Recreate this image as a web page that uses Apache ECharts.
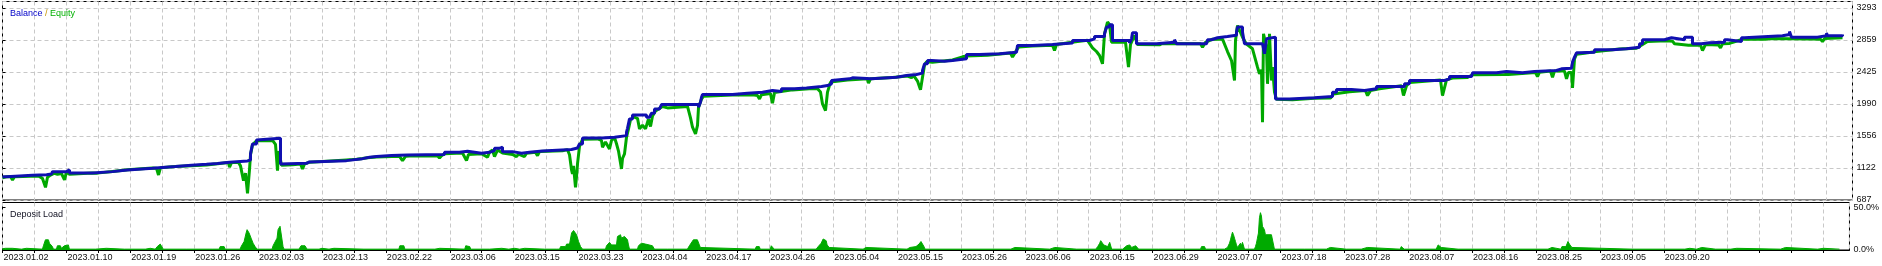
<!DOCTYPE html>
<html>
<head>
<meta charset="utf-8">
<script src="https://cdn.jsdelivr.net/npm/echarts@6/dist/echarts.min.js"></script>
<style>
html,body{margin:0;padding:0;background:#fff;}
#c{width:1882px;height:266px;}
</style>
</head>
<body>
<div id="c"></div>
<script>
// x = bar/time index (0..1850), labels every 64 bars
const dateLabels = ['2023.01.02','2023.01.10','2023.01.19','2023.01.26','2023.02.03','2023.02.13','2023.02.22','2023.03.06','2023.03.15','2023.03.23','2023.04.04','2023.04.17','2023.04.26','2023.05.04','2023.05.15','2023.05.26','2023.06.06','2023.06.15','2023.06.29','2023.07.07','2023.07.18','2023.07.28','2023.08.07','2023.08.16','2023.08.25','2023.09.05','2023.09.20'];

const balance = [
[0,1004],[4,1022],[30,1031],[44,1040],[49,1054],[50,1072],[64,1095],[67,1054],[90,1072],[110,1095],[125,1117],[150,1140],[173,1158],[189,1171],[204,1181],[215,1199],[227,1217],[245,1230],[248,1312],[250,1447],[254,1502],[255,1524],[278,1176],[280,1185],[304,1203],[307,1221],[344,1248],[360,1266],
[367,1276],[374,1289],[389,1298],[405,1325],[407,1303],[442,1334],[457,1348],[465,1321],[479,1334],[487,1357],[492,1388],[497,1402],[500,1343],[510,1321],[519,1334],[527,1352],[540,1371],[569,1393],[575,1402],[577,1447],[580,1529],[599,1538],[612,1560],[624,1606],[625,1660],[627,1787],[630,1841],[644,1809],[647,1832],[649,1864],[652,1922],[657,1945],[659,1981],[696,1945],[698,2013],[699,2081],[700,2117],[730,2135],
[745,2149],[760,2171],[770,2158],[779,2194],[792,2207],[804,2226],[819,2239],[825,2262],[829,2307],[830,2330],[847,2343],[850,2330],[869,2352],[894,2375],[904,2388],[914,2407],[920,2443],[922,2533],[925,2578],[929,2569],[942,2578],[950,2601],[964,2660],[977,2669],[997,2691],[1014,2714],[1015,2782],[1030,2795],[1050,2814],[1070,2850],[1087,2872],[1092,2904],[1102,2940],[1104,3031],[1107,3062],
[1110,2850],[1127,2814],[1129,2872],[1130,2954],[1134,2805],[1154,2827],[1172,2859],[1174,2805],[1182,2818],[1184,2805],[1204,2827],[1205,2859],[1209,2886],[1215,2904],[1225,2922],[1234,2963],[1235,3031],[1240,2963],[1242,2805],[1260,2827],[1262,2669],[1264,2872],[1265,2895],[1273,2058],[1287,2072],[1312,2090],[1330,2149],[1334,2185],[1349,2171],[1362,2194],[1374,2226],[1402,2262],[1407,2307],[1442,2330],[1447,2361],[1469,2388],[1470,2411],
[1494,2429],[1504,2411],[1520,2429],[1532,2443],[1554,2465],[1559,2474],[1569,2497],[1570,2556],[1572,2624],[1574,2682],[1577,2691],[1592,2723],[1610,2737],[1624,2759],[1637,2805],[1640,2859],[1662,2886],[1669,2859],[1682,2895],[1690,2805],[1699,2818],[1707,2827],[1722,2859],[1725,2836],[1739,2886],[1742,2913],[1780,2931],[1787,2972],[1789,2895],[1815,2913],[1824,2949],[1825,2913],[1840,2931]
];

const equity = [
[0,990],[4,1002],[8,1005],[10,960],[12,1002],[36,1012],[40,980],[43,859],[45,995],[48,1025],[52,1050],[55,1035],[57,1009],[59,1045],[62,959],[64,1068],[67,1035],[90,1052],[94,1050],[95,1027],[97,1055],[110,1075],[125,1097],[150,1120],[154,1117],[156,1027],[158,1125],[173,1140],[189,1152],[204,1162],[215,1180],[226,1195],[227,1131],[229,1195],[236,1195],[238,1150],[241,950],[243,1050],[245,778],[247,1100],[248,1300],[250,1435],[254,1490],[256,1508],[270,1495],[273,1440],[275,1086],[276,1350],[277,1300],[279,1160],[290,1165],[298,1175],[300,1108],[302,1175],[307,1200],[320,1210],[344,1230],[350,1235],[352,1208],[354,1240],[360,1250],[365,1260],
[374,1270],[397,1280],[400,1221],[403,1280],[407,1285],[435,1288],[437,1257],[439,1288],[442,1315],[460,1325],[464,1221],[466,1305],[479,1315],[485,1266],[487,1335],[490,1365],[492,1276],[495,1365],[497,1380],[500,1325],[510,1305],[514,1276],[516,1310],[522,1276],[524,1320],[533,1335],[535,1289],[537,1345],[560,1355],[565,1370],[567,1300],[569,1100],[570,1040],[571,1150],[573,859],[574,1000],[575,1176],[577,1415],[580,1510],[595,1515],[599,1495],[600,1402],[603,1475],[607,1380],[609,1495],[612,1535],[614,1450],[616,1350],[619,1108],[620,1250],[622,1312],[624,1538],[626,1650],[628,1775],[631,1815],[635,1795],[637,1651],[640,1700],[643,1651],[646,1785],[648,1683],[650,1825],[653,1895],[655,1917],[660,1955],[665,1936],[667,1960],[685,1955],[688,1800],[690,1674],[693,1583],[695,1700],[696,1940],[699,2055],[701,2095],[730,2110],
[750,2113],[755,2105],[757,2058],[759,2115],[768,2130],[770,1999],[772,2143],[790,2180],[810,2200],[815,2195],[818,2150],[820,1990],[823,1900],[825,2150],[828,2285],[845,2315],[865,2330],[866,2271],[868,2330],[890,2348],[905,2368],[909,2345],[911,2378],[913,2385],[915,2300],[918,2180],[920,2352],[922,2515],[924,2560],[930,2555],[950,2585],[960,2628],[964,2640],[985,2650],[1008,2680],[1010,2624],[1013,2695],[1016,2760],[1030,2775],[1050,2785],[1052,2714],[1054,2795],[1075,2835],[1085,2852],[1087,2827],[1090,2750],[1094,2700],[1097,2646],[1100,2533],[1102,2940],[1105,3099],[1107,3067],[1109,2827],
[1123,2825],[1125,2600],[1126,2488],[1128,2795],[1132,2918],[1135,2795],[1157,2791],[1160,2810],[1198,2805],[1200,2759],[1203,2825],[1210,2868],[1220,2868],[1222,2845],[1225,2700],[1229,2578],[1232,2307],[1233,2850],[1235,3053],[1237,3076],[1240,2895],[1244,2800],[1250,2737],[1255,2488],[1257,2397],[1259,2450],[1260,1741],[1261,2940],[1264,2759],[1265,2262],[1267,2940],[1269,2307],[1270,2488],[1272,2149],[1274,2052],[1276,2035],[1290,2045],[1312,2065],[1328,2070],[1329,2044],[1331,2125],[1347,2155],[1363,2170],[1365,2103],[1368,2170],[1377,2195],[1399,2235],[1401,2103],[1404,2235],[1407,2280],[1438,2315],[1440,2103],[1444,2315],[1450,2340],[1465,2347],[1470,2385],[1502,2387],
[1504,2361],[1506,2390],[1533,2415],[1535,2361],[1537,2420],[1548,2435],[1550,2352],[1552,2435],[1562,2435],[1564,2330],[1566,2415],[1569,2415],[1570,2207],[1572,2600],[1574,2664],[1580,2673],[1594,2700],[1617,2735],[1634,2745],[1645,2836],[1664,2845],[1670,2840],[1672,2805],[1686,2785],[1688,2782],[1692,2790],[1698,2785],[1700,2714],[1703,2795],[1716,2790],[1718,2750],[1720,2805],[1727,2810],[1740,2867],[1763,2867],[1765,2845],[1767,2875],[1805,2870],[1807,2850],[1809,2870],[1818,2865],[1820,2835],[1822,2875],[1840,2885]
];

const depositLoad = [
[0,1.5],[3,2],[10,2],[12,1],[19,1],[20,2],[24,2],[25,1],[40,1],[41,5],[43,12],[46,12],[47,8],[50,4],[51,1],[54,1],[55,5],[58,5],[59,2],[62,5],[64,7],[66,6],[67,1],[93,1],[94,2],[104,2],[105,1],[122,1],[123,2],[124,1],[143,1],[144,2],[148,2],[149,1],[153,1],[155,4],[158,7],[160,6],[161,1],[184,1],[185,2],[186,1],[210,1],[211,2],[212,1],[217,1],[218,4],[222,4],[223,1],[238,1],[239,4],[242,10],[244,20],[245,24],[247,20],[249,14],[251,8],[253,4],[255,1],[263,1],[264,2],[265,1],[270,1],[271,5],[275,14],[276,24],[278,28],[280,28],[281,4],[282,1],[297,1],[299,5],[301,7],[303,5],[305,1],[317,1],[318,2],[320,2],[321,1],[327,1],[328,2],[332,2],[333,1],[362,1],[363,2],[364,1],[397,1],[398,5],[402,5],[403,1],[433,1],[434,2],[438,2],[439,1],[463,1],[464,5],[466,7],[468,4],[469,1],[488,1],[489,2],[500,2],[501,1],[507,1],[508,2],[513,2],[514,1],[518,1],[519,2],[523,2],[524,1],[543,1],[544,2],[545,1],[555,1],[556,2],[557,1],[558,1],[559,4],[564,4],[565,7],[568,7],[570,20],[572,23],[574,22],[575,18],[577,10],[579,4],[581,1],[604,1],[605,5],[608,9],[609,8],[610,6],[615,6],[616,16],[619,18],[620,14],[623,16],[625,14],[626,12],[627,6],[628,1],[636,1],[637,5],[640,8],[644,7],[645,6],[651,5],[652,3],[653,1],[666,1],[667,2],[668,1],[686,1],[688,5],[692,12],[694,14],[696,12],[698,6],[699,3],[700,1],[754,1],[755,4],[758,4],[759,1],[769,1],[770,5],[772,4],[773,1],[815,1],[817,4],[820,8],[822,13],[825,11],[826,6],[828,3],[829,1],[862,1],[863,3],[865,3],[866,1],[906,1],[907,3],[909,3],[915,4],[918,7],[920,10],[922,8],[923,4],[924,1],[978,1],[979,2],[980,1],[1010,1],[1011,3],[1014,3],[1015,1],[1049,1],[1050,3],[1054,3],[1055,1],[1076,1],[1077,2],[1078,1],[1085,1],[1086,2],[1087,1],[1095,1],[1097,4],[1099,8],[1100,11],[1101,9],[1103,6],[1105,5],[1107,4],[1108,4],[1109,9],[1110,9],[1111,1],[1122,1],[1124,3],[1126,5],[1128,7],[1129,6],[1130,4],[1131,3],[1133,4],[1135,5],[1137,5],[1138,1],[1158,1],[1159,2],[1160,1],[1200,1],[1201,4],[1204,4],[1205,1],[1224,1],[1227,3],[1228,5],[1229,8],[1230,12],[1231,17],[1232,21],[1233,18],[1234,14],[1235,10],[1236,6],[1237,3],[1239,3],[1240,8],[1241,5],[1242,9],[1243,9],[1244,1],[1254,1],[1255,4],[1256,8],[1257,14],[1258,20],[1259,38],[1260,44],[1261,40],[1262,28],[1263,26],[1264,24],[1265,18],[1271,18],[1272,20],[1273,20],[1274,1],[1304,1],[1305,2],[1306,1],[1326,1],[1327,3],[1330,3],[1331,1],[1346,1],[1347,2],[1348,1],[1361,1],[1362,3],[1367,3],[1368,1],[1400,1],[1401,4],[1402,6],[1403,4],[1404,1],[1436,1],[1437,3],[1438,6],[1440,6],[1441,3],[1442,1],[1458,1],[1459,2],[1460,1],[1533,1],[1534,2],[1535,1],[1548,1],[1549,3],[1552,3],[1553,1],[1561,1],[1562,4],[1563,4],[1564,2],[1566,4],[1568,10],[1570,6],[1572,3],[1573,1],[1633,1],[1634,2],[1635,1],[1685,1],[1686,2],[1690,2],[1691,1],[1697,1],[1698,3],[1702,3],[1703,1],[1716,1],[1717,2],[1718,1],[1731,1],[1732,2],[1737,2],[1738,1],[1781,1],[1782,3],[1786,3],[1787,1],[1818,1],[1819,2],[1824,2],[1825,1],[1840,1]
];

const FONT = 'Liberation Sans';
const gridDash = {color:'#c8c8c8', width:1, type:[4,3]};
const chart = echarts.init(document.getElementById('c'), null, {renderer:'canvas'});
chart.setOption({
  animation:false,
  backgroundColor:'#fff',
  title:[
    {text:'{b|Balance} {s|/} {e|Equity}', left:5, top:4, textStyle:{fontFamily:FONT, fontSize:9, fontWeight:'normal', rich:{
      b:{color:'#0000c8', fontFamily:FONT, fontSize:9},
      s:{color:'#c89600', fontFamily:FONT, fontSize:9},
      e:{color:'#00b000', fontFamily:FONT, fontSize:9}}}},
    {text:'Deposit Load', left:5, top:205, textStyle:{fontFamily:FONT, fontSize:9, fontWeight:'normal', color:'#101020'}}
  ],
  grid:[
    {left:2.5, top:1.5, width:1850, height:198.5, show:true, borderColor:'#000', borderWidth:1, backgroundColor:'#fff'},
    {left:2.5, top:202.5, width:1850, height:47.5, show:true, borderColor:'#000', borderWidth:1, backgroundColor:'#fff'}
  ],
  xAxis:[
    {type:'value', gridIndex:0, min:0, max:1850, interval:32,
     axisLine:{show:false}, axisTick:{show:false}, axisLabel:{show:false},
     splitLine:{show:true, lineStyle:gridDash}},
    {type:'value', gridIndex:1, min:0, max:1850, interval:32,
     axisLine:{show:true, lineStyle:{color:'#000', width:1}},
     axisTick:{show:true, length:3, lineStyle:{color:'#000'}},
     axisLabel:{show:true, align:'left', margin:3, padding:[0,0,0,1], fontFamily:FONT, fontSize:9, color:'#101010',
       showMinLabel:true, showMaxLabel:false, hideOverlap:false,
       formatter:function(v){ if (v % 64 !== 0) return ''; const i = v/64; return i < dateLabels.length ? dateLabels[i] : ''; }},
     splitLine:{show:true, lineStyle:gridDash}}
  ],
  yAxis:[
    {type:'value', gridIndex:0, position:'right', min:687.4, max:3378, interval:434.3,
     axisLine:{show:false}, axisTick:{show:true, length:3, lineStyle:{color:'#000'}},
     axisLabel:{show:true, margin:4, fontFamily:FONT, fontSize:9, color:'#101010', showMaxLabel:false, showMinLabel:true,
       formatter:function(v){ return String(Math.round(v)); }},
     splitLine:{show:true, lineStyle:gridDash}},
    {type:'value', gridIndex:1, position:'right', min:0, max:56, interval:50,
     axisLine:{show:false}, axisTick:{show:true, length:3, lineStyle:{color:'#000'}},
     axisLabel:{show:true, margin:4, fontFamily:FONT, fontSize:9, color:'#101010', showMaxLabel:false,
       formatter:function(v){ return v.toFixed(1) + '%'; }},
     splitLine:{show:false}}
  ],
  series:[
    {name:'Equity', type:'line', xAxisIndex:0, yAxisIndex:0, data:equity, showSymbol:false, silent:true, z:2,
     lineStyle:{color:'#00a800', width:3}},
    {name:'Balance', type:'line', step:'end', xAxisIndex:0, yAxisIndex:0, data:balance, showSymbol:false, silent:true, z:3,
     lineStyle:{color:'#1010b0', width:3}},
    {name:'Deposit Load', type:'line', xAxisIndex:1, yAxisIndex:1, data:depositLoad, showSymbol:false, silent:true, z:2,
     lineStyle:{color:'#00aa00', width:1}, areaStyle:{color:'#00aa00', opacity:1}}
  ]
});
</script>
</body>
</html>
